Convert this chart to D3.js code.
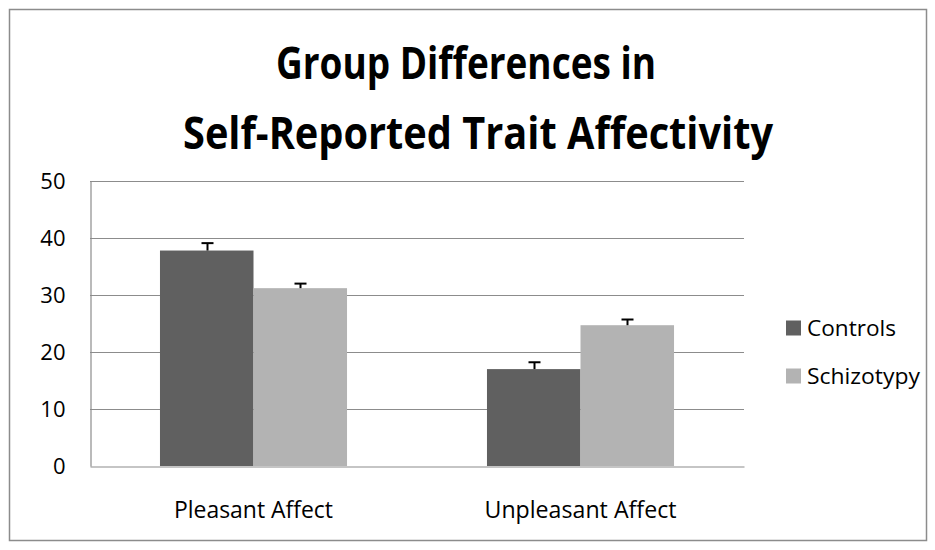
<!DOCTYPE html>
<html><head><meta charset="utf-8">
<script src="https://cdn.jsdelivr.net/npm/d3@7"></script>
<style>body{margin:0;background:#fff}svg{display:block}</style>
</head><body>
<script>
const categories = ["Pleasant Affect", "Unpleasant Affect"];
const seriesNames = ["Controls", "Schizotypy"];
const controls = [37.8, 17.0];
const schizotypy = [31.2, 24.7];
const controlsErr = [1.3, 1.2];
const schizotypyErr = [0.8, 1.0];
const yTicks = [0, 10, 20, 30, 40, 50];
const colors = ["#606060", "#b3b3b3"];
const titleLines = ["Group Differences in", "Self-Reported Trait Affectivity"];

const W = 935, H = 550;
const font = "'Open Sans', 'Noto Sans', sans-serif";
const svg = d3.select("body").append("svg").attr("width", W).attr("height", H);

svg.append("rect").attr("x", 9.5).attr("y", 9.5).attr("width", 917).attr("height", 531)
  .attr("fill", "#fff").attr("stroke", "#8c8c8c").attr("stroke-width", 1.5);

const m = {left: 90, right: 744, top: 181, bottom: 466};
const y = d3.scaleLinear().domain([0, 50]).range([m.bottom, m.top]);
const x0 = d3.scaleBand().domain(categories).range([m.left, m.right]).paddingInner(0.428).paddingOuter(0.214);
const x1 = d3.scaleBand().domain(seriesNames).range([0, x0.bandwidth()]);

// gridlines
svg.append("g").selectAll("line").data(yTicks.filter(d => d > 0)).join("line")
  .attr("x1", m.left).attr("x2", m.right).attr("y1", d => y(d) + 0.5).attr("y2", d => y(d) + 0.5)
  .attr("stroke", "#8c8c8c").attr("stroke-width", 1.2);

// y axis
const yAxis = d3.axisLeft(y).tickValues(yTicks).tickSize(0).tickPadding(25);
const gy = svg.append("g").attr("transform", `translate(${m.left + 0.5},0)`).call(yAxis);
gy.select(".domain").attr("stroke", "#8c8c8c").attr("stroke-width", 1.2);
gy.selectAll("text").attr("font-family", font).attr("font-size", 22).attr("fill", "#000");

const series = [controls, schizotypy];
const errs = [controlsErr, schizotypyErr];
const rows = [];
categories.forEach((c, i) => seriesNames.forEach((s, j) => rows.push({c, s, j, v: series[j][i], e: errs[j][i]})));

svg.append("g").selectAll("rect").data(rows).join("rect")
  .attr("x", d => x0(d.c) + x1(d.s)).attr("width", x1.bandwidth())
  .attr("y", d => y(d.v)).attr("height", d => y(0) - y(d.v))
  .attr("fill", d => colors[d.j]);

// error bars
const eg = svg.append("g").attr("stroke", "#000").attr("stroke-width", 2);
rows.forEach(d => {
  const cx = Math.round(x0(d.c) + x1(d.s) + x1.bandwidth() / 2) + 0.5;
  eg.append("line").attr("x1", cx).attr("x2", cx).attr("y1", y(d.v)).attr("y2", y(d.v + d.e));
  eg.append("line").attr("x1", cx - 6).attr("x2", cx + 6).attr("y1", y(d.v + d.e)).attr("y2", y(d.v + d.e));
});

// x axis
const gx = svg.append("g").attr("transform", `translate(0,${m.bottom + 0.5})`)
  .call(d3.axisBottom(x0).tickSize(0).tickPadding(34));
gx.select(".domain").attr("stroke", "#8c8c8c").attr("stroke-width", 1.2);
gx.selectAll("text").attr("font-family", font).attr("font-size", 23).attr("fill", "#000")
  .attr("dy", null).attr("y", 51.5)
  .attr("textLength", d => d === categories[0] ? 159 : 192).attr("lengthAdjust", "spacingAndGlyphs");

// title
const t = svg.append("text").attr("text-anchor", "middle").attr("font-family", font)
  .attr("font-weight", "bold").attr("font-size", 44).attr("fill", "#000");
t.append("tspan").attr("x", 466).attr("y", 79).text(titleLines[0]).attr("textLength", 380).attr("lengthAdjust", "spacingAndGlyphs");
t.append("tspan").attr("x", 478).attr("y", 149).text(titleLines[1]).attr("textLength", 590).attr("lengthAdjust", "spacingAndGlyphs");

// legend
const lg = svg.append("g");
seriesNames.forEach((s, i) => {
  const ly = 328 + i * 48;
  lg.append("rect").attr("x", 786).attr("y", ly - 7.5).attr("width", 15).attr("height", 15).attr("fill", colors[i]);
  lg.append("text").attr("x", 807).attr("y", ly).attr("dy", "0.35em").attr("font-family", font)
    .attr("font-size", 22).attr("fill", "#000").text(s)
    .attr("textLength", i === 0 ? 89 : 113).attr("lengthAdjust", "spacingAndGlyphs");
});
</script>
</body></html>
